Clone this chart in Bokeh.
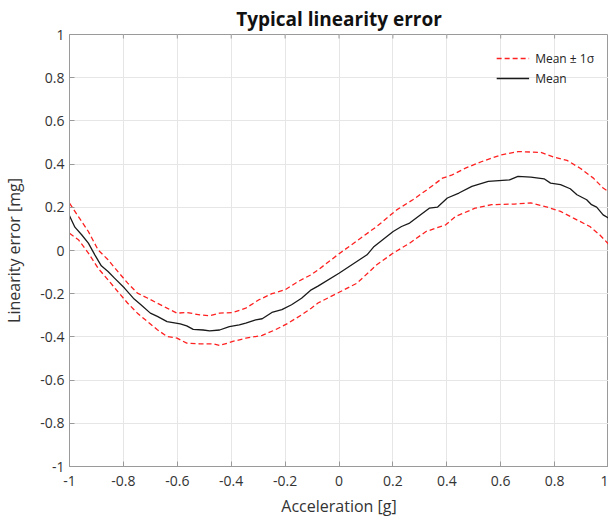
import math
from bokeh.plotting import figure
from bokeh.models import Range1d, FixedTicker
from bokeh.embed import file_html
from bokeh.resources import INLINE

# ---- data ----
mean_x = [-1.0, -0.98, -0.955, -0.93, -0.906, -0.882, -0.857, -0.833, -0.796, -0.76,
          -0.735, -0.70, -0.674, -0.638, -0.589, -0.565, -0.541, -0.504, -0.48, -0.443,
          -0.407, -0.37, -0.346, -0.309, -0.285, -0.249, -0.212, -0.176, -0.139, -0.103,
          -0.078, 0.0, 0.104, 0.128, 0.201, 0.232, 0.262, 0.335, 0.366, 0.402,
          0.445, 0.493, 0.554, 0.633, 0.664, 0.712, 0.761, 0.785, 0.822, 0.858,
          0.883, 0.919, 0.937, 0.956, 0.98, 1.0]
mean_y = [0.161, 0.108, 0.073, 0.034, -0.020, -0.071, -0.097, -0.128, -0.174, -0.225,
          -0.251, -0.290, -0.305, -0.329, -0.340, -0.349, -0.365, -0.368, -0.372, -0.368,
          -0.352, -0.344, -0.336, -0.321, -0.316, -0.287, -0.274, -0.251, -0.221, -0.182,
          -0.165, -0.105, -0.020, 0.016, 0.088, 0.111, 0.127, 0.196, 0.201, 0.243,
          0.266, 0.297, 0.320, 0.327, 0.343, 0.340, 0.332, 0.312, 0.305, 0.286,
          0.258, 0.235, 0.212, 0.201, 0.165, 0.150]

upper_x = [-1.0, -0.967, -0.93, -0.894, -0.857, -0.821, -0.784, -0.748, -0.711, -0.674,
           -0.638, -0.601, -0.565, -0.516, -0.48, -0.443, -0.394, -0.346, -0.297, -0.249,
           -0.20, -0.151, -0.103, -0.078, -0.005, 0.080, 0.140, 0.214, 0.274, 0.335,
           0.384, 0.420, 0.469, 0.530, 0.603, 0.664, 0.749, 0.798, 0.846, 0.895,
           0.944, 0.980, 1.0]
upper_y = [0.219, 0.157, 0.088, 0.003, -0.043, -0.097, -0.151, -0.197, -0.220, -0.244,
           -0.267, -0.290, -0.287, -0.298, -0.302, -0.290, -0.287, -0.267, -0.228, -0.200,
           -0.182, -0.143, -0.112, -0.090, -0.020, 0.057, 0.111, 0.188, 0.235, 0.289,
           0.335, 0.350, 0.381, 0.412, 0.443, 0.458, 0.454, 0.432, 0.417, 0.381,
           0.335, 0.289, 0.273]

lower_x = [-1.0, -0.967, -0.93, -0.894, -0.857, -0.821, -0.784, -0.748, -0.711, -0.674,
           -0.638, -0.601, -0.565, -0.516, -0.467, -0.443, -0.394, -0.346, -0.285, -0.236,
           -0.188, -0.139, -0.103, -0.078, -0.005, 0.067, 0.140, 0.201, 0.262, 0.323,
           0.396, 0.432, 0.505, 0.566, 0.651, 0.712, 0.773, 0.822, 0.870, 0.931,
           0.968, 1.0]
lower_y = [0.080, 0.050, -0.012, -0.082, -0.136, -0.190, -0.244, -0.290, -0.329, -0.367,
           -0.398, -0.406, -0.429, -0.432, -0.432, -0.440, -0.421, -0.406, -0.393, -0.367,
           -0.336, -0.298, -0.267, -0.243, -0.197, -0.151, -0.066, -0.012, 0.034, 0.088,
           0.119, 0.157, 0.196, 0.212, 0.215, 0.220, 0.201, 0.181, 0.150, 0.111,
           0.072, 0.030]

x_ticks = [-1, -0.8, -0.6, -0.4, -0.2, 0, 0.2, 0.4, 0.6, 0.8, 1]
y_ticks = [-1, -0.8, -0.6, -0.4, -0.2, 0, 0.2, 0.4, 0.6, 0.8, 1]
x_tick_labels = {-1: "-1", -0.8: "-0.8", -0.6: "-0.6", -0.4: "-0.4", -0.2: "-0.2", 0: "0",
                 0.2: "0.2", 0.4: "0.4", 0.6: "0.6", 0.8: "0.8", 1: "1"}
y_tick_labels = dict(x_tick_labels)
top_edge = [1] * len(x_ticks)

FONT = "Open Sans"
AXIS_GRAY = "#9a9a9a"
TEXT = "#333333"

p = figure(frame_width=539, frame_height=432, output_backend="svg", toolbar_location=None,
           x_range=Range1d(-1, 1), y_range=Range1d(-1, 1),
           min_border_left=64, min_border_right=0, min_border_top=31, min_border_bottom=46,
           title="Typical linearity error")
p.title.align = "center"
p.title.text_font = FONT
p.title.text_font_size = "19px"
p.title.text_font_style = "bold"
p.title.text_color = "#111111"
p.title.offset = 0
p.title.standoff = 6

p.background_fill_color = "white"
p.border_fill_color = "white"
p.outline_line_color = AXIS_GRAY
p.outline_line_width = 1

for ax in (p.xaxis[0], p.yaxis[0]):
    ax.axis_line_color = AXIS_GRAY
    ax.major_tick_line_color = AXIS_GRAY
    ax.major_tick_in = 5
    ax.major_tick_out = 0
    ax.minor_tick_line_color = None
    ax.major_label_text_font = FONT
    ax.major_label_text_font_size = "14px"
    ax.major_label_text_color = TEXT
    ax.axis_label_text_font = FONT
    ax.axis_label_text_font_size = "16px"
    ax.axis_label_text_font_style = "normal"
    ax.axis_label_text_color = TEXT

p.xaxis.ticker = FixedTicker(ticks=x_ticks)
p.yaxis.ticker = FixedTicker(ticks=y_ticks)
p.xaxis.major_label_overrides = x_tick_labels
p.yaxis.major_label_overrides = y_tick_labels
p.xaxis.axis_label = "Acceleration [g]"
p.yaxis.axis_label = "Linearity error [mg]"
p.xaxis.major_label_standoff = 9
p.yaxis.major_label_standoff = 5
p.xaxis.axis_label_standoff = 6
p.yaxis.axis_label_standoff = 12

# top-edge tick marks (box style)
p.ray(x=x_ticks, y=top_edge, length=4, length_units="screen", angle=-math.pi / 2,
      line_color=AXIS_GRAY, line_width=1)

p.xgrid.grid_line_color = "#e6e6e6"
p.ygrid.grid_line_color = "#e6e6e6"
p.xgrid.ticker = FixedTicker(ticks=x_ticks)
p.ygrid.ticker = FixedTicker(ticks=y_ticks)

RED = "#ff2020"
p.line(upper_x, upper_y, line_color=RED, line_width=1.3, line_dash="5 3",
       legend_label="Mean ± 1σ")
p.line(lower_x, lower_y, line_color=RED, line_width=1.3, line_dash="5 3")
p.line(mean_x, mean_y, line_color="#1a1a1a", line_width=1.3, legend_label="Mean")

lg = p.legend[0]
lg.location = "top_right"
lg.border_line_color = None
lg.background_fill_alpha = 0
lg.label_text_font = FONT
lg.label_text_font_size = "12px"
lg.label_text_color = "#222222"
lg.glyph_width = 33
lg.glyph_height = 20
lg.label_height = 20
lg.spacing = 0
lg.margin = 14
lg.padding = 8
lg.label_standoff = 6

open("out.html", "w").write(file_html(p, INLINE))
